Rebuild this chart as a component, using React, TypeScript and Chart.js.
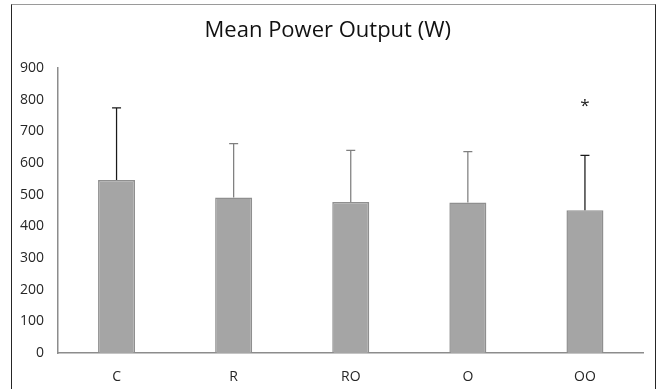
import React, { useEffect, useRef } from "react";
import { Chart, registerables } from "chart.js";

Chart.register(...registerables);

const categories = ["C", "R", "RO", "O", "OO"];
const meanPower = [546, 491, 477, 475, 451];
const sdPower = [228, 170, 163, 161, 173];
const errorColors = ["#1a1a1a", "#7f7f7f", "#7f7f7f", "#7f7f7f", "#1a1a1a"];
const significance = ["", "", "", "", "*"];
const significanceValue = 790;
const yTicks = [0, 100, 200, 300, 400, 500, 600, 700, 800, 900];
const titleText = "Mean Power Output (W)";

const FONT = "'Open Sans', 'Noto Sans', sans-serif";

const errorBarPlugin = {
  id: "errorBars",
  afterDatasetsDraw(chart: any) {
    const { ctx, scales } = chart;
    const meta = chart.getDatasetMeta(0);
    const y = scales.y;
    ctx.save();
    meta.data.forEach((bar: any, i: number) => {
      const x = bar.x;
      const yTop = y.getPixelForValue(meanPower[i] + sdPower[i]);
      const yBase = y.getPixelForValue(meanPower[i]);
      ctx.strokeStyle = errorColors[i];
      ctx.lineWidth = 1.25;
      ctx.beginPath();
      ctx.moveTo(x, yBase);
      ctx.lineTo(x, yTop);
      ctx.moveTo(x - 4.5, yTop);
      ctx.lineTo(x + 4.5, yTop);
      ctx.stroke();
      if (significance[i]) {
        ctx.fillStyle = "#1a1a1a";
        ctx.font = `17px ${FONT}`;
        ctx.textAlign = "center";
        ctx.textBaseline = "middle";
        ctx.fillText(significance[i], x, y.getPixelForValue(significanceValue) + 3);
      }
    });
    ctx.restore();
  },
};

export default function App() {
  const canvasRef = useRef<HTMLCanvasElement | null>(null);

  useEffect(() => {
    document.body.style.margin = "0";
    const canvas = canvasRef.current;
    if (!canvas) return;
    const chart = new Chart(canvas, {
      type: "bar",
      data: {
        labels: categories,
        datasets: [
          {
            data: meanPower,
            backgroundColor: "#a5a5a5",
            borderColor: "#8f8f8f",
            borderWidth: 1.5,
            barPercentage: 0.316,
            categoryPercentage: 1,
          },
        ],
      },
      options: {
        animation: false,
        responsive: false,
        maintainAspectRatio: false,
        layout: { padding: { left: 0, right: 11.5, top: 0, bottom: 0 } },
        plugins: {
          legend: { display: false },
          tooltip: { enabled: false },
          title: {
            display: true,
            text: titleText,
            color: "#111111",
            font: { family: FONT, size: 22, weight: "normal" },
            padding: { top: 13, bottom: 23.6 },
          },
        },
        scales: {
          x: {
            afterFit: (scale: any) => {
              scale.height = 36;
            },
            grid: { display: false, drawTicks: false },
            border: { display: true, color: "#8c8c8c", width: 1.5 },
            ticks: {
              color: "#262626",
              font: { family: FONT, size: 14 },
              padding: 16,
            },
          },
          y: {
            min: 0,
            max: 900,
            afterFit: (scale: any) => {
              scale.width = 46;
            },
            afterBuildTicks: (scale: any) => {
              scale.ticks = yTicks.map((v) => ({ value: v }));
            },
            grid: { display: false, drawTicks: false },
            border: { display: true, color: "#8c8c8c", width: 1.5 },
            ticks: {
              color: "#262626",
              font: { family: FONT, size: 14 },
              padding: 14,
            },
          },
        },
      },
      plugins: [errorBarPlugin],
    });
    return () => chart.destroy();
  }, []);

  return (
    <div
      style={{
        position: "absolute",
        left: 11,
        top: 4,
        width: 643,
        height: 400,
        borderTop: "1px solid #9a9a9a",
        borderLeft: "1.5px solid #262626",
        borderRight: "1.5px solid #262626",
        background: "#fff",
      }}
    >
      <canvas ref={canvasRef} width={643} height={384} style={{ display: "block" }} />
    </div>
  );
}
